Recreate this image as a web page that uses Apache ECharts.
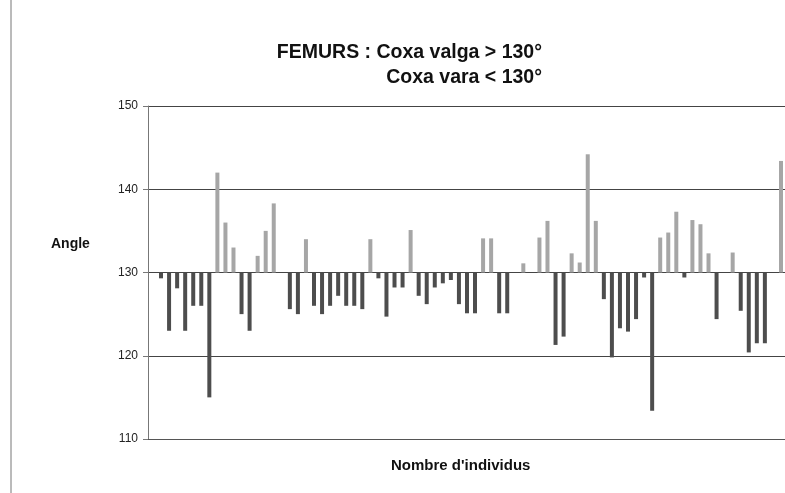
<!DOCTYPE html>
<html>
<head>
<meta charset="utf-8">
<script src="https://cdn.jsdelivr.net/npm/echarts@6/dist/echarts.min.js"></script>
<style>
  html, body { margin: 0; padding: 0; background: #fff; }
  #chart { width: 785px; height: 493px; }
</style>
</head>
<body>
<div id="chart"></div>
<script>
// angle du col fémoral par individu
const angles = [
  129.3, 123, 128.1, 123, 126, 126, 115, 142, 136, 133,
  125, 123, 132, 135, 138.3, 130, 125.6, 125, 134, 126,
  125, 126, 127.2, 126, 126, 125.6, 134, 129.3, 124.7, 128.2,
  128.2, 135.1, 127.2, 126.2, 128.2, 128.7, 129.1, 126.2, 125.1, 125.1,
  134.1, 134.1, 125.1, 125.1, 130, 131.1, 130, 134.2, 136.2, 121.3,
  122.3, 132.3, 131.2, 144.2, 136.2, 126.8, 119.8, 123.3, 122.9, 124.4,
  129.4, 113.4, 134.2, 134.8, 137.3, 129.4, 136.3, 135.8, 132.3, 124.4,
  130, 132.4, 125.4, 120.4, 121.5, 121.5, 130, 143.4
]
const individus = angles.map((v, i) => String(i + 1))
const seuil = 130
const yTicks = [110, 120, 130, 140, 150]

const chart = echarts.init(document.getElementById('chart'))

const base = angles.map(v => Math.min(v, seuil))
const vara = angles.map(v => (v < seuil ? +(seuil - v).toFixed(2) : 0))
const valga = angles.map(v => (v > seuil ? +(v - seuil).toFixed(2) : 0))

const font = 'Liberation Sans, Arial, sans-serif'
const yMin = yTicks[0]
const yMax = yTicks[yTicks.length - 1]

chart.setOption({
  animation: false,
  title: [
    {
      text: 'FEMURS : Coxa valga > 130°',
      right: 238,
      top: 38,
      textStyle: { fontFamily: font, fontSize: 19.5, fontWeight: 'bold', color: '#111' }
    },
    {
      text: 'Coxa vara < 130°',
      right: 238,
      top: 63,
      textStyle: { fontFamily: font, fontSize: 19.5, fontWeight: 'bold', color: '#111' }
    },
    {
      text: 'Angle',
      left: 46,
      top: 232,
      textStyle: { fontFamily: font, fontSize: 14, fontWeight: 'bold', color: '#111' }
    },
    {
      text: "Nombre d'individus",
      left: 386,
      top: 453,
      textStyle: { fontFamily: font, fontSize: 15, fontWeight: 'bold', color: '#111' }
    }
  ],
  graphic: [
    { type: 'line', shape: { x1: 11, y1: 0, x2: 11, y2: 493 }, style: { stroke: '#777', lineWidth: 1 } }
  ],
  grid: [
    // cadre : axes et quadrillage
    { left: 148, right: 0, top: 106, bottom: 54 },
    // barres
    { left: 157, width: 629, top: 106, bottom: 54 }
  ],
  xAxis: [
    {
      gridIndex: 0,
      type: 'category',
      data: [''],
      axisLine: { onZero: false, lineStyle: { color: '#555', width: 1.2 } },
      axisTick: { show: false },
      axisLabel: { show: false },
      splitLine: { show: false }
    },
    {
      gridIndex: 1,
      type: 'category',
      data: individus,
      axisLine: { show: false },
      axisTick: { show: false },
      axisLabel: { show: false },
      splitLine: { show: false }
    }
  ],
  yAxis: [
    {
      gridIndex: 0,
      type: 'value',
      min: yMin,
      max: yMax,
      interval: 10,
      axisLine: { show: true, lineStyle: { color: '#777', width: 1 } },
      axisTick: { show: true, length: 5, lineStyle: { color: '#777' } },
      axisLabel: { margin: 10, fontFamily: font, fontSize: 12, color: '#222' },
      splitLine: { lineStyle: { color: '#444', width: 1.2 } }
    },
    {
      gridIndex: 1,
      type: 'value',
      min: yMin,
      max: yMax,
      interval: 10,
      axisLine: { show: false },
      axisTick: { show: false },
      axisLabel: { show: false },
      splitLine: { show: false }
    }
  ],
  series: [
    {
      name: 'base',
      type: 'bar',
      xAxisIndex: 1,
      yAxisIndex: 1,
      stack: 'angle',
      barWidth: 4,
      silent: true,
      itemStyle: { color: 'transparent' },
      data: base
    },
    {
      name: 'Coxa vara',
      type: 'bar',
      xAxisIndex: 1,
      yAxisIndex: 1,
      stack: 'angle',
      barWidth: 4,
      itemStyle: { color: '#4d4d4d' },
      data: vara
    },
    {
      name: 'Coxa valga',
      type: 'bar',
      xAxisIndex: 1,
      yAxisIndex: 1,
      stack: 'angle',
      barWidth: 4,
      itemStyle: { color: '#a6a6a6' },
      data: valga
    }
  ]
})
</script>
</body>
</html>
